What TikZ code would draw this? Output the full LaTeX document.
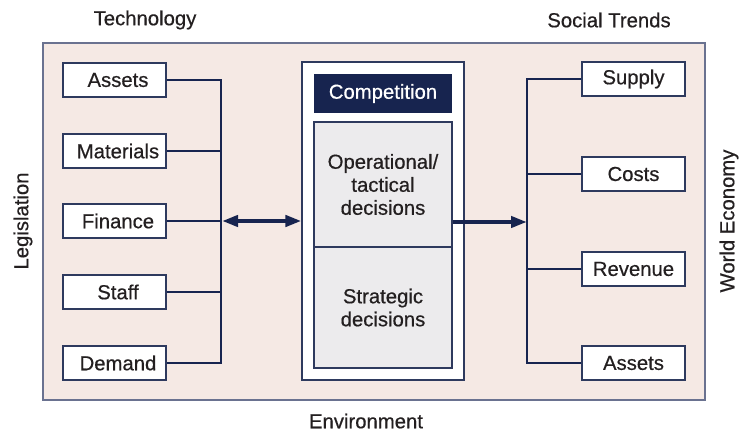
\documentclass[tikz,border=0pt]{standalone}
\usepackage{fontspec}
\setmainfont{Liberation Sans}[UprightFeatures={FakeBold=0.5}]
\usetikzlibrary{arrows.meta}
\definecolor{navy}{HTML}{17244F}
\definecolor{bgpink}{HTML}{F5E9E4}
\definecolor{framecol}{HTML}{6A7290}
\definecolor{boxedge}{HTML}{2E3A5E}
\definecolor{grayfill}{HTML}{ECEBED}
\definecolor{txt}{HTML}{231F20}
\tikzset{
  x=1pt, y=-1pt,
  every node/.style={font=\fontsize{20.3}{23}\selectfont, text=txt},
  itembox/.style={draw=boxedge, fill=white, line width=1.1pt, minimum width=103pt, minimum height=34pt, inner sep=0pt},
  leftbox/.style={itembox, execute at begin node=\hspace*{7pt}},
  link/.style={draw=navy, line width=2pt},
  bigarrow/.style={draw=navy, line width=4pt},
  outlabel/.style={inner sep=0pt}
}
\begin{document}
\begin{tikzpicture}
\useasboundingbox (0,0) rectangle (747,438);
% outer frame
\draw[fill=bgpink, draw=framecol, line width=1.3pt] (43,43) rectangle (705,400);
% outside labels
\node[outlabel] (tech) at (145,20) {Technology};
\node[outlabel] (soc) at (609,20) {Social Trends};
\node[outlabel] (env) at (366,421) {Environment};
\node[outlabel, rotate=90] (leg) at (23,221) {Legislation};
\node[outlabel, rotate=90] (we) at (729,221) {World Economy};
% left boxes
\node[leftbox] (l1) at (114.5,80) {Assets};
\node[leftbox] (l2) at (114.5,151) {Materials};
\node[leftbox] (l3) at (114.5,221) {Finance};
\node[leftbox] (l4) at (114.5,292) {Staff};
\node[leftbox] (l5) at (114.5,363) {Demand};
\coordinate (lbus1) at (221,80);
\coordinate (lbus5) at (221,363);
\coordinate (lmid) at (221,221);
\draw[link] (l1.east) -- (lbus1) -- (lbus5) -- (l5.east);
\foreach \n in {2,3,4} \draw[link] (l\n.east) -- (l\n.east -| lbus1);
% centre block
\node[draw=boxedge, fill=white, line width=1.1pt, minimum width=162pt, minimum height=318pt, inner sep=0pt] (outer) at (383,221) {};
\node[fill=navy, minimum width=138pt, minimum height=39pt, inner sep=0pt, text=white] (comp) at (383,93.5) {Competition};
\node[draw=boxedge, fill=grayfill, line width=1.1pt, minimum width=138pt, minimum height=125pt, inner sep=0pt, align=center] (op) at (383,184.5) {Operational/\\tactical\\decisions};
\node[draw=boxedge, fill=grayfill, line width=1.1pt, minimum width=138pt, minimum height=121pt, inner sep=0pt, align=center] (st) at (383,307.5) {Strategic\\decisions};
% right boxes
\node[itembox] (r1) at (633.5,79) {Supply};
\node[itembox] (r2) at (633.5,174) {Costs};
\node[itembox] (r3) at (633.5,269) {Revenue};
\node[itembox] (r4) at (633.5,363) {Assets};
\coordinate (rbus1) at (527,79);
\coordinate (rbus4) at (527,363);
\coordinate (rmid) at (527,222);
\draw[link] (r1.west) -- (rbus1) -- (rbus4) -- (r4.west);
\foreach \n in {2,3} \draw[link] (r\n.west) -- (r\n.west -| rbus1);
% arrows
\draw[bigarrow, {Triangle[length=16pt, width=11pt]}-{Triangle[length=16pt, width=11pt]}, shorten <=1pt] (lmid) -- (lmid -| outer.west);
\draw[bigarrow, -{Triangle[length=16pt, width=11pt]}] (op.east |- rmid) -- (rmid);
\end{tikzpicture}
\end{document}
